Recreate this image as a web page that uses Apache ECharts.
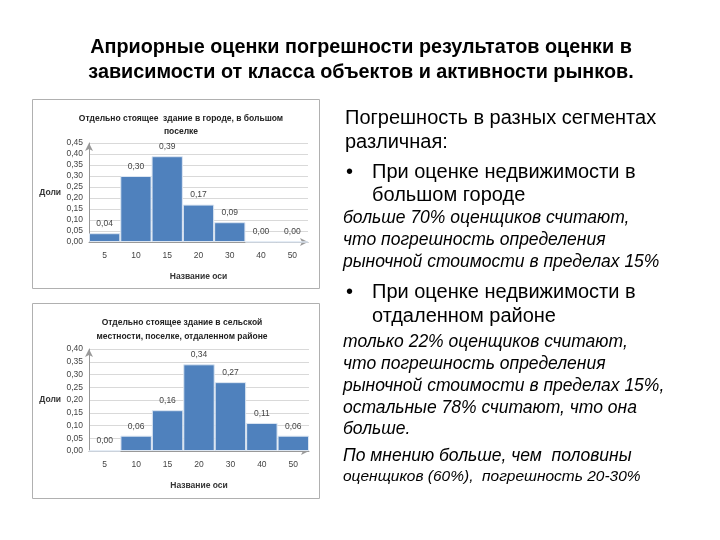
<!DOCTYPE html>
<html>
<head>
<meta charset="utf-8">
<script src="https://cdn.jsdelivr.net/npm/echarts@6/dist/echarts.min.js"></script>
<style>
html,body{margin:0;padding:0;background:#fff;}
#c{width:720px;height:540px;}
</style>
</head>
<body>
<div id="c"></div>
<script>
// ---- data ----
var categories = ['5', '10', '15', '20', '30', '40', '50'];
var cityValues = [0.04, 0.30, 0.39, 0.17, 0.09, 0.00, 0.00];
var ruralValues = [0.00, 0.06, 0.16, 0.34, 0.27, 0.11, 0.06];
var cityTitle = 'Отдельно стоящее  здание в городе, в большом\nпоселке';
var ruralTitle = 'Отдельно стоящее здание в сельской\nместности, поселке, отдаленном районе';
var xAxisName = 'Название оси';
var yAxisName = 'Доли';
var mainTitle = 'Априорные оценки погрешности результатов оценки в\nзависимости от класса объектов и активности рынков.';

var FONT = 'Liberation Sans, Arial, sans-serif';
var chart = echarts.init(document.getElementById('c'), null, {renderer: 'canvas'});

function fmt(v) { return Number(v).toFixed(2).replace('.', ','); }

function makeX(gi) {
  return {
    type: 'category', gridIndex: gi, data: categories,
    axisTick: {show: false},
    axisLine: {show: true, symbol: ['none', 'arrow'], symbolSize: [6, 8], lineStyle: {color: '#999', width: 1}},
    axisLabel: {color: '#444', fontSize: 8.5, fontFamily: FONT, margin: 9},
    name: xAxisName, nameLocation: 'middle', nameGap: 30,
    nameTextStyle: {fontSize: 8.5, fontWeight: 'bold', color: '#333', fontFamily: FONT}
  };
}
function makeY(gi, max) {
  return {
    type: 'value', gridIndex: gi, min: 0, max: max, interval: 0.05,
    axisLine: {show: true, symbol: ['none', 'arrow'], symbolSize: [6, 8], lineStyle: {color: '#999', width: 1}},
    axisTick: {show: false},
    splitLine: {show: true, lineStyle: {color: '#d9d9d9', width: 1}},
    axisLabel: {color: '#444', fontSize: 8.5, fontFamily: FONT, margin: 6, formatter: fmt},
    name: yAxisName, nameLocation: 'middle', nameRotate: 0, nameGap: 28,
    nameTextStyle: {fontSize: 8.5, fontWeight: 'bold', color: '#333', fontFamily: FONT}
  };
}
function makeSeries(gi, data) {
  return {
    type: 'bar', xAxisIndex: gi, yAxisIndex: gi, data: data,
    barCategoryGap: '0%',
    itemStyle: {color: '#4f81bd', borderColor: '#dce6f2', borderWidth: 1},
    label: {show: true, position: 'top', distance: 5, color: '#444', fontSize: 8.5, fontFamily: FONT, formatter: function (p) { return fmt(p.value); }},
    silent: true, animation: false
  };
}

var rightLines = [
  {t: 'Погрешность в разных сегментах', x: 345, y: 118, s: 20, i: false},
  {t: 'различная:', x: 345, y: 142, s: 20, i: false},
  {t: '•', x: 346, y: 172, s: 20, i: false},
  {t: 'При оценке недвижимости в', x: 372, y: 172, s: 20, i: false},
  {t: 'большом городе', x: 372, y: 195, s: 20, i: false},
  {t: 'больше 70% оценщиков считают,', x: 343, y: 218, s: 17.5, i: true},
  {t: 'что погрешность определения', x: 343, y: 240, s: 17.5, i: true},
  {t: 'рыночной стоимости в пределах 15%', x: 343, y: 262, s: 17.5, i: true},
  {t: '•', x: 346, y: 292, s: 20, i: false},
  {t: 'При оценке недвижимости в', x: 372, y: 292, s: 20, i: false},
  {t: 'отдаленном районе', x: 372, y: 316, s: 20, i: false},
  {t: 'только 22% оценщиков считают,', x: 343, y: 342, s: 17.5, i: true},
  {t: 'что погрешность определения', x: 343, y: 364, s: 17.5, i: true},
  {t: 'рыночной стоимости в пределах 15%,', x: 343, y: 386, s: 17.5, i: true},
  {t: 'остальные 78% считают, что она', x: 343, y: 408, s: 17.5, i: true},
  {t: 'больше.', x: 343, y: 429, s: 17.5, i: true},
  {t: 'По мнению больше, чем  половины', x: 343, y: 456, s: 17.5, i: true},
  {t: 'оценщиков (60%),  погрешность 20-30%', x: 343, y: 477, s: 15.5, i: true}
];

var graphics = [
  {type: 'rect', shape: {x: 32.5, y: 99.5, width: 287, height: 189}, style: {fill: 'none', stroke: '#b0b0b0', lineWidth: 1}, z: -1},
  {type: 'rect', shape: {x: 32.5, y: 303.5, width: 287, height: 195}, style: {fill: 'none', stroke: '#b0b0b0', lineWidth: 1}, z: -1}
];
rightLines.forEach(function (l) {
  graphics.push({type: 'text', x: l.x, y: l.y, style: {text: l.t, fill: '#000', fontSize: l.s, fontStyle: l.i ? 'italic' : 'normal', fontFamily: FONT, verticalAlign: 'middle', align: 'left'}});
});

chart.setOption({
  backgroundColor: '#fff',
  animation: false,
  title: [
    {text: mainTitle, left: 356, top: 30, textAlign: 'center', textStyle: {fontSize: 19.8, fontWeight: 'bold', color: '#000', fontFamily: FONT, lineHeight: 25}},
    {text: cityTitle, left: 176, top: 107, textAlign: 'center', textStyle: {fontSize: 8.5, fontWeight: 'bold', color: '#222', fontFamily: FONT, lineHeight: 13}},
    {text: ruralTitle, left: 177, top: 311, textAlign: 'center', textStyle: {fontSize: 8.5, fontWeight: 'bold', color: '#222', fontFamily: FONT, lineHeight: 14}}
  ],
  grid: [
    {left: 89, top: 143, width: 219, height: 99},
    {left: 89, top: 349, width: 220, height: 102}
  ],
  xAxis: [makeX(0), makeX(1)],
  yAxis: [makeY(0, 0.45), makeY(1, 0.40)],
  series: [makeSeries(0, cityValues), makeSeries(1, ruralValues)],
  graphic: graphics
});
</script>
</body>
</html>
